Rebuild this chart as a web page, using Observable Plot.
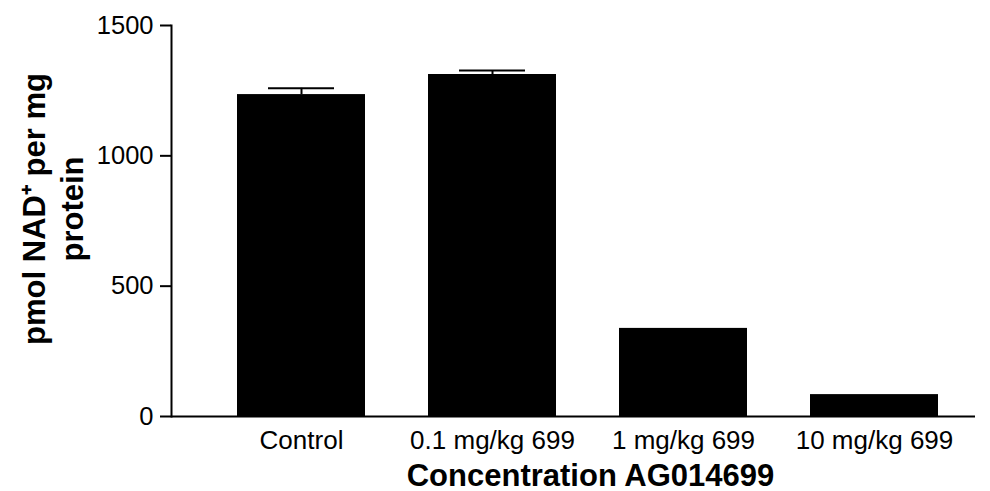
<!DOCTYPE html>
<html>
<head>
<meta charset="utf-8">
<script src="https://cdn.jsdelivr.net/npm/d3@7"></script>
<script src="https://cdn.jsdelivr.net/npm/@observablehq/plot@0.6"></script>
<style>
  html, body { margin: 0; padding: 0; background: #fff; }
  #chart svg { display: block; }
</style>
</head>
<body>
<div id="chart"></div>
<script>
const categories = ["Control", "0.1 mg/kg 699", "1 mg/kg 699", "10 mg/kg 699"];
const means = [1235, 1312, 338, 84];
const errors = [24, 15, 0, 0];
const yTicks = [0, 500, 1000, 1500];
const yLabel = "pmol NAD\u207A per mg\nprotein";
const xLabel = "Concentration AG014699";

const data = categories.map((c, i) => ({cat: c, mean: means[i], err: errors[i]}));
const errData = data.filter(d => d.err > 0);

const chart = Plot.plot({
  width: 990,
  height: 491,
  marginLeft: 171,
  marginRight: 15,
  marginTop: 25,
  marginBottom: 75,
  style: {fontFamily: "'Liberation Sans', Arial, sans-serif", background: "#fff", color: "#000"},
  x: {domain: categories, paddingInner: 0.33, paddingOuter: 0, insetLeft: 64, insetRight: 36},
  y: {domain: [0, 1500]},
  marks: [
    Plot.barY(data, {x: "cat", y: "mean", fill: "#000"}),
    Plot.ruleX(errData, {x: "cat", y1: "mean", y2: d => d.mean + d.err, stroke: "#000", strokeWidth: 2}),
    Plot.tickY(errData, {x: "cat", y: d => d.mean + d.err, stroke: "#000", strokeWidth: 2, insetLeft: 31, insetRight: 31}),
    Plot.ruleY([0], {stroke: "#000", strokeWidth: 2}),
    Plot.frame({anchor: "left", stroke: "#000", strokeWidth: 2}),
    Plot.axisY({ticks: yTicks, tickSize: 11, tickPadding: 7, fontSize: 25.5, strokeWidth: 2, label: null, tickFormat: d => String(d)}),
    Plot.axisX({tickSize: 0, tickPadding: 14, fontSize: 26, label: null}),
    Plot.text([xLabel], {frameAnchor: "bottom", textAnchor: "middle", dx: 17, dy: 69, fontSize: 31, fontWeight: "bold", fill: "#000"}),
    Plot.text([yLabel], {frameAnchor: "left", textAnchor: "middle", dx: -120, dy: -12, rotate: -90, fontSize: 31, fontWeight: "bold", lineHeight: 1.25, fill: "#000"})
  ]
});
document.getElementById("chart").appendChild(chart);
</script>
</body>
</html>
